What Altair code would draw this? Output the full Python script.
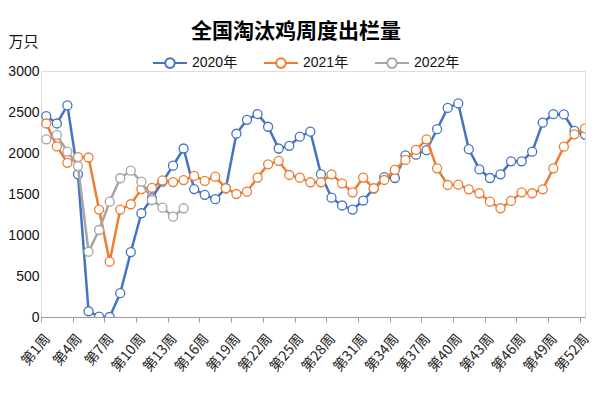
import altair as alt
import pandas as pd

weeks = list(range(1, 54))
series_names = ["2020年", "2021年", "2022年"]
colors = ["#4472C4", "#ED7D31", "#A5A5A5"]

v2020 = [2450, 2360, 2580, 1740, 70, 5, 0, 290, 790, 1265,
         1450, 1650, 1845, 2055, 1560, 1490, 1437, 1570, 2235, 2405,
         2475, 2320, 2055, 2087, 2199, 2260, 1742, 1455, 1360, 1310,
         1420, 1565, 1705, 1695, 1970, 1980, 2035, 2290, 2550, 2605,
         2047, 1800, 1695, 1740, 1898, 1898, 2016, 2370, 2474, 2470,
         2270, 2225, 2400]
v2021 = [2360, 2080, 1880, 1950, 1945, 1310, 675, 1310, 1375, 1560,
         1575, 1665, 1645, 1670, 1720, 1659, 1711, 1570, 1500, 1528,
         1700, 1862, 1904, 1732, 1699, 1643, 1643, 1740, 1630, 1521,
         1700, 1570, 1671, 1793, 1915, 2037, 2167, 1813, 1610, 1614,
         1557, 1509, 1406, 1326, 1415, 1521, 1509, 1557, 1813, 2077,
         2228, 2301, 2370]
v2022 = [2167, 2220, 2016, 1841, 796, 1061, 1406, 1692, 1784, 1650,
         1427, 1333, 1223, 1326]

tick_weeks = list(range(1, 53, 3))
y_ticks = [0, 500, 1000, 1500, 2000, 2500, 3000]

rows = []
for name, vals in zip(series_names, [v2020, v2021, v2022]):
    for w, v in zip(weeks, vals):
        rows.append({"week": w, "value": v, "series": name})
df = pd.DataFrame(rows)

PAD_L = 33
W, H = 544, 246
x_min, x_max = 0.5, 52.0
half = W / (x_max - x_min) / 2

font = "Liberation Sans, Noto Sans CJK SC"
cjk = "Noto Sans CJK SC"

x = alt.X(
    "week:Q",
    scale=alt.Scale(domain=[x_min, x_max], nice=False, zero=False),
    axis=alt.Axis(
        values=tick_weeks,
        labelExpr="'第' + datum.value + '周'",
        labelAngle=-50,
        labelAlign="right",
        labelBaseline="middle",
        tickOffset=-half,
        labelOffset=half + 1,
        labelPadding=14,
        labelFont=cjk,
        labelFontSize=14,
        labelColor="#222222",
        tickSize=5,
        tickColor="#9a9a9a",
        domainColor="#9a9a9a",
        grid=False,
        title=None,
        labelOverlap=False,
    ),
)
y = alt.Y(
    "value:Q",
    scale=alt.Scale(domain=[0, 3000], nice=False),
    axis=alt.Axis(
        values=y_ticks,
        format="d",
        domain=False,
        ticks=False,
        grid=False,
        labelPadding=2,
        labelFont=font,
        labelFontSize=14,
        labelColor="#111111",
        title="万只",
        titleAngle=0,
        titleX=-PAD_L,
        titleY=-30,
        titleAlign="left",
        titleBaseline="middle",
        titleFont=cjk,
        titleFontSize=15,
        titleFontWeight="normal",
        titleColor="#111111",
    ),
)

stroke_scale = alt.Scale(domain=series_names, range=colors)
legend_path = ("M-1,0L-0.28,0M0.28,0L1,0M0.28,0A0.28,0.28,0,1,1,-0.28,0"
               "A0.28,0.28,0,1,1,0.28,0Z")
legend = alt.Legend(
    title=None,
    orient="none",
    legendX=111,
    legendY=-26,
    direction="horizontal",
    symbolType=legend_path,
    symbolSize=1156,
    symbolStrokeWidth=2,
    symbolFillColor="white",
    labelFont=font,
    labelFontSize=14,
    labelColor="#111111",
    columnPadding=22,
    padding=0,
)

layers = []
for i, name in enumerate(series_names):
    base = alt.Chart(df).transform_filter(alt.datum.series == name)
    line = base.mark_line(strokeWidth=2.5, clip=True).encode(
        x=x, y=y,
        stroke=alt.Stroke("series:N", scale=stroke_scale,
                          legend=legend if i == 0 else None),
    )
    pts = base.mark_point(shape="circle", size=81, filled=True, fill="white",
                          opacity=1, strokeWidth=1.3, clip=True).encode(
        x=x, y=y,
        stroke=alt.Stroke("series:N", scale=stroke_scale, legend=None),
    )
    layers += [line, pts]

chart = alt.layer(*layers).properties(
    width=W,
    height=H,
    title=alt.TitleParams(
        text="全国淘汰鸡周度出栏量",
        font=cjk,
        fontSize=21,
        fontWeight="bold",
        color="#000000",
        anchor="middle",
        dx=-17,
        dy=12,
    ),
    autosize=alt.AutoSizeParams(type="none"),
    padding={"left": PAD_L, "top": 63, "right": 7, "bottom": 75},
).configure_view(stroke=None).configure(background="white")

chart.save("out.html", embed_options={"renderer": "svg", "actions": False})
